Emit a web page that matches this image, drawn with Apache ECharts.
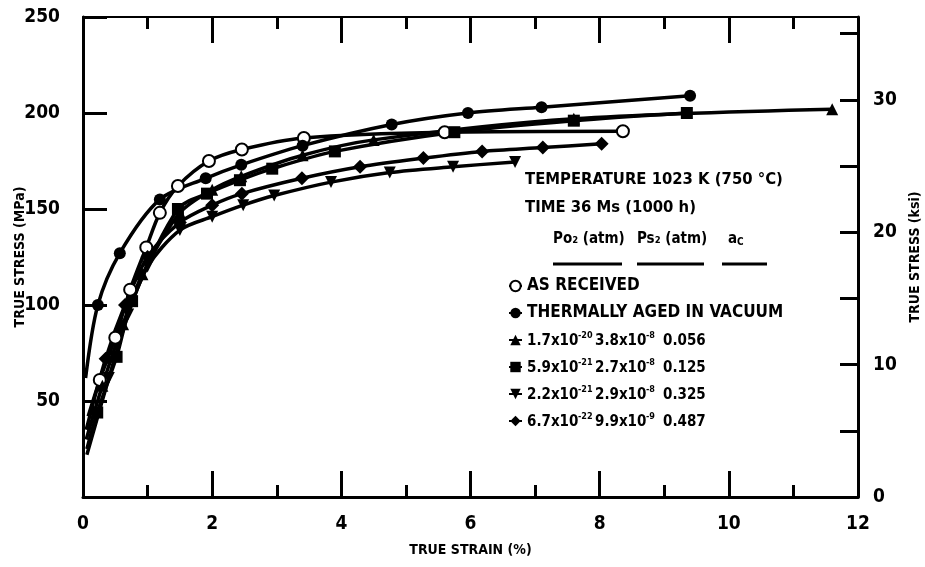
<!DOCTYPE html>
<html>
<head>
<meta charset="utf-8">
<title>True stress - true strain</title>
<script src="https://cdn.jsdelivr.net/npm/echarts@6/dist/echarts.min.js"></script>
<style>
    html, body { margin: 0; padding: 0; background: #fff; }
    #main { width: 925px; height: 567px; }
</style>
</head>
<body>
<div id="main"></div>
<script>
// 数据：每条曲线 [真应变(%), 真应力(MPa)]，从图上读出来的近似值
var asReceived = [[0.08, 42], [0.26, 61], [0.5, 83], [0.73, 108], [0.98, 130], [1.19, 148], [1.47, 162], [1.95, 175], [2.46, 181], [3.42, 187], [5.6, 190], [8.36, 190.5]];
var agedVacuum = [[0.04, 62], [0.23, 100], [0.57, 127], [1.19, 155], [1.9, 166], [2.45, 173], [3.4, 183], [4.78, 194], [5.96, 200], [7.1, 203], [9.4, 209]];
var po2_17e20 = [[0.05, 30], [0.3, 58], [0.62, 90], [0.92, 116], [1.5, 148], [2.0, 160], [2.45, 167], [3.4, 178], [4.5, 186], [7.6, 197], [11.6, 202]];
var po2_59e21 = [[0.06, 25], [0.22, 44], [0.52, 73], [0.76, 102], [1.47, 150], [1.92, 158], [2.43, 165], [2.93, 171], [3.9, 180], [5.75, 190], [7.6, 196], [9.35, 200]];
var po2_22e21 = [[0.06, 22], [0.4, 62], [0.7, 95], [1.0, 120], [1.5, 139], [2.0, 146], [2.48, 152], [2.96, 157], [3.84, 164], [4.75, 169], [5.73, 172], [6.69, 174.5]];
var po2_67e22 = [[0.05, 35], [0.35, 72], [0.65, 100], [1.0, 125], [1.5, 143], [2.0, 152], [2.46, 158], [3.39, 166], [4.29, 172], [5.27, 176.5], [6.18, 180], [7.12, 182], [8.03, 184]];

// 图例文字（底数和指数分开写，指数画成上标）
var seriesNames = ['AS RECEIVED', 'THERMALLY AGED IN VACUUM', 'Po2 1.7e-20', 'Po2 5.9e-21', 'Po2 2.2e-21', 'Po2 6.7e-22'];
var po2Base = ['', '', '1.7x10', '5.9x10', '2.2x10', '6.7x10'];
var po2Exp = ['', '', '-20', '-21', '-21', '-22'];
var ps2Base = ['', '', '3.8x10', '2.7x10', '2.9x10', '9.9x10'];
var ps2Exp = ['', '', '-8', '-8', '-8', '-9'];
var acLabels = ['', '', '0.056', '0.125', '0.325', '0.487'];

// MPa -> ksi
var MPA_PER_KSI = 6.895;

(function() {
    var myChart = echarts.init(document.getElementById('main'));

    var font = '"DejaVu Sans Condensed", "Liberation Sans Narrow", "DejaVu Sans", sans-serif';
    var black = '#000';
    var allData = [asReceived, agedVacuum, po2_17e20, po2_59e21, po2_22e21, po2_67e22];
    // 标记：空心圆、实心圆、三角、方块、倒三角、菱形
    var symbols = ['emptyCircle', 'circle', 'triangle', 'rect', 'path://M0,0L10,0L5,9Z', 'diamond'];

    function makeSeries(i) {
        return {
            name: seriesNames[i],
            type: 'line',
            smooth: 0.3,
            symbol: symbols[i],
            symbolSize: i === 5 ? 14 : 12,
            lineStyle: { color: black, width: 3.5 },
            itemStyle: { color: black, borderWidth: i === 0 ? 2.5 : 0 },
            // 起点贴着纵轴，不画标记
            data: allData[i].map(function(p, j) {
                return j === 0 ? { value: p, symbol: 'none' } : p;
            })
        };
    }

    var tickStyle = { color: black, width: 3 };
    var boldText = { color: black, fontFamily: font, fontWeight: 'bold' };
    // 坐标轴线不要跟着 0 走，否则顶轴、右轴会跑到左下角
    var lineNoZero = { onZero: false, lineStyle: tickStyle };

    function rowStyle(extra) {
        return Object.assign({ fontSize: 15, lineHeight: 18, verticalAlign: 'bottom' }, boldText, extra || {});
    }

    var option = {
        animation: false,
        backgroundColor: '#fff',
        grid: { left: 83, right: 67, top: 17, bottom: 70, containLabel: false, outerBoundsMode: 'none' },
        xAxis: [{
            type: 'value',
            position: 'bottom',
            min: 0,
            max: 12,
            interval: 2,
            name: 'TRUE STRAIN (%)',
            nameLocation: 'middle',
            nameGap: 46,
            nameMoveOverlap: false,
            nameTextStyle: Object.assign({ fontSize: 14 }, boldText),
            axisLine: lineNoZero,
            axisTick: { inside: true, length: 26, lineStyle: tickStyle },
            minorTick: { show: true, splitNumber: 2, length: 12, lineStyle: tickStyle },
            splitLine: { show: false },
            axisLabel: Object.assign({ margin: 18, fontSize: 19 }, boldText)
        }, {
            type: 'value',
            position: 'top',
            min: 0,
            max: 12,
            interval: 2,
            axisLine: { onZero: false, lineStyle: { color: black, width: 2 } },
            axisTick: { inside: true, length: 26, lineStyle: tickStyle },
            minorTick: { show: true, splitNumber: 2, length: 12, lineStyle: tickStyle },
            splitLine: { show: false },
            axisLabel: { show: false }
        }],
        yAxis: [{
            type: 'value',
            position: 'left',
            min: 0,
            max: 250,
            interval: 50,
            name: 'TRUE STRESS (MPa)',
            nameLocation: 'middle',
            nameRotate: 90,
            nameGap: 56,
            nameMoveOverlap: false,
            nameTextStyle: Object.assign({ fontSize: 14 }, boldText),
            axisLine: lineNoZero,
            axisTick: { inside: true, length: 24, lineStyle: tickStyle },
            splitLine: { show: false },
            axisLabel: Object.assign({ margin: 23, fontSize: 19, showMinLabel: false }, boldText)
        }, {
            type: 'value',
            position: 'right',
            min: 0,
            max: 250 / MPA_PER_KSI,
            interval: 5,
            name: 'TRUE STRESS (ksi)',
            nameLocation: 'middle',
            nameRotate: 90,
            nameGap: 50,
            nameMoveOverlap: false,
            nameTextStyle: Object.assign({ fontSize: 14 }, boldText),
            axisLine: lineNoZero,
            axisTick: { inside: true, length: 18, lineStyle: tickStyle },
            splitLine: { show: false },
            axisLabel: Object.assign({
                margin: 15,
                fontSize: 19,
                showMaxLabel: false,
                formatter: function(v) {
                    return Math.abs(v % 10) < 1e-6 ? String(v) : '';
                }
            }, boldText)
        }],
        legend: {
            orient: 'vertical',
            left: 503,
            top: 272,
            itemWidth: 13,
            itemHeight: 13,
            itemGap: 9,
            selectedMode: false,
            data: seriesNames,
            textStyle: Object.assign({
                fontSize: 17,
                lineHeight: 18,
                rich: {
                    n: rowStyle({ width: 51 }),
                    s: Object.assign({ width: 17, fontSize: 9, lineHeight: 10, verticalAlign: 'top' }, boldText),
                    c: rowStyle()
                }
            }, boldText),
            formatter: function(name) {
                var i = seriesNames.indexOf(name);
                if (!po2Base[i]) {
                    return name;
                }
                return '{n|' + po2Base[i] + '}{s|' + po2Exp[i] + '}' +
                    '{n|' + ps2Base[i] + '}{s|' + ps2Exp[i] + '}' +
                    '{c|' + acLabels[i] + '}';
            }
        },
        graphic: [
            { type: 'text', left: 525, top: 171, style: { text: 'TEMPERATURE 1023 K (750 °C)', fontSize: 16.5, fontWeight: 'bold', fontFamily: font, fill: black } },
            { type: 'text', left: 525, top: 199, style: { text: 'TIME 36 Ms (1000 h)', fontSize: 16.5, fontWeight: 'bold', fontFamily: font, fill: black } },
            { type: 'text', left: 553, top: 232, style: { text: 'Po₂ (atm)', fontSize: 15, fontWeight: 'bold', fontFamily: font, fill: black } },
            { type: 'text', left: 637, top: 232, style: { text: 'Ps₂ (atm)', fontSize: 15, fontWeight: 'bold', fontFamily: font, fill: black } },
            {
                type: 'text', left: 728, top: 232,
                style: {
                    text: '{a|a}{s|C}',
                    fill: black,
                    rich: {
                        a: { fontSize: 15, fontWeight: 'bold', fontFamily: font, fill: black },
                        s: { fontSize: 10, fontWeight: 'bold', fontFamily: font, fill: black, padding: [6, 0, 0, 0] }
                    }
                }
            },
            // 表头下划线
            { type: 'line', shape: { x1: 553, y1: 264, x2: 622, y2: 264 }, style: { stroke: black, lineWidth: 3 } },
            { type: 'line', shape: { x1: 637, y1: 264, x2: 704, y2: 264 }, style: { stroke: black, lineWidth: 3 } },
            { type: 'line', shape: { x1: 722, y1: 264, x2: 767, y2: 264 }, style: { stroke: black, lineWidth: 3 } }
        ],
        series: [0, 1, 2, 3, 4, 5].map(makeSeries)
    };

    myChart.setOption(option);
})();
</script>
</body>
</html>
